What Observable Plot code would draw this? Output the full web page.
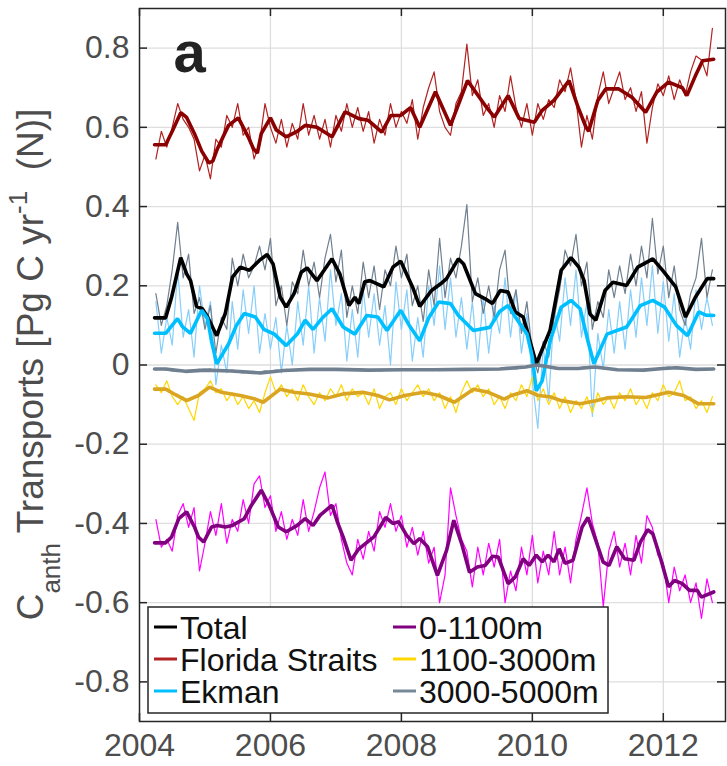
<!DOCTYPE html>
<html><head><meta charset="utf-8">
<script src="https://cdn.jsdelivr.net/npm/d3@7"></script>
<script src="https://cdn.jsdelivr.net/npm/@observablehq/plot@0.6"></script>
<style>body{margin:0;background:#fff;font-family:"Liberation Sans",Arial,Helvetica,sans-serif;}</style>
</head><body><div id="chart"></div>
<script>
// ---------- DATA ----------
const rawStart = 2004.25;   // first monthly sample (decimal year)
const rawStep = 1 / 12;     // monthly

const floridaRaw = [0.52,0.59,0.55,0.60,0.66,0.62,0.60,0.57,0.49,
 0.53,0.47,0.57,0.55,0.63,0.60,0.66,0.58,0.60,0.52,0.56,0.66,
 0.60,0.56,0.62,0.55,0.61,0.57,0.66,0.58,0.63,0.57,0.62,0.55,
 0.63,0.59,0.66,0.60,0.65,0.59,0.64,0.56,0.62,0.58,0.66,0.60,
 0.64,0.61,0.67,0.57,0.65,0.70,0.74,0.64,0.60,0.58,0.66,0.69,
 0.81,0.68,0.72,0.63,0.66,0.60,0.68,0.64,0.73,0.65,0.60,0.66,
 0.58,0.66,0.62,0.67,0.65,0.72,0.69,0.75,0.67,0.55,0.63,0.57,
 0.68,0.74,0.66,0.70,0.74,0.67,0.70,0.64,0.69,0.56,0.65,0.71,
 0.68,0.73,0.67,0.72,0.68,0.74,0.78,0.77,0.73,0.85];

const totalRaw = [0.18,0.10,0.15,0.24,0.36,0.22,0.28,0.13,0.17,
 0.09,0.15,0.03,0.12,0.09,0.27,0.20,0.28,0.22,0.25,0.30,0.24,
 0.32,0.15,0.20,0.10,0.21,0.18,0.29,0.20,0.26,0.17,0.27,0.33,
 0.21,0.29,0.12,0.20,0.13,0.26,0.17,0.25,0.14,0.24,0.20,0.30,
 0.22,0.28,0.15,0.20,0.11,0.24,0.15,0.32,0.17,0.27,0.22,0.30,
 0.405,0.16,0.22,0.13,0.20,0.12,0.24,0.29,0.13,0.19,0.08,0.16,
 0.03,-0.02,0.06,0.02,0.12,0.19,0.29,0.25,0.33,0.20,0.26,0.09,
 0.16,0.12,0.24,0.17,0.25,0.18,0.28,0.20,0.30,0.22,0.37,0.23,
 0.30,0.17,0.25,0.14,0.10,0.18,0.22,0.32,0.17,0.24];

const ekmanRaw = [0.16,0.03,0.12,0.05,0.24,0.07,0.14,0.02,0.20,
 0.10,0.16,-0.05,0.05,-0.02,0.16,0.04,0.19,0.08,0.20,0.03,0.13,
 0.04,0.12,-0.02,0.10,0.00,0.16,0.05,0.20,0.03,0.17,0.06,0.24,
 0.10,0.18,0.01,0.14,0.02,0.19,0.07,0.18,0.05,0.15,0.00,0.21,
 0.09,0.19,0.01,0.12,0.02,0.20,0.10,0.25,0.09,0.22,0.07,0.17,
 0.04,0.16,0.01,0.17,0.03,0.15,0.08,0.22,0.07,0.19,0.03,0.13,
 -0.04,-0.16,0.05,-0.09,0.14,0.06,0.22,0.10,0.24,0.07,0.16,-0.13,
 0.08,-0.01,0.14,0.03,0.16,0.04,0.19,0.07,0.22,0.10,0.25,0.08,
 0.21,0.06,0.18,0.02,0.12,0.04,0.19,0.09,0.17,0.10];

const upperRaw = [-0.39,-0.46,-0.44,-0.47,-0.38,-0.35,-0.41,-0.36,-0.52,
 -0.45,-0.37,-0.43,-0.35,-0.45,-0.39,-0.42,-0.34,-0.40,-0.30,-0.28,-0.36,
 -0.33,-0.42,-0.37,-0.44,-0.39,-0.43,-0.34,-0.42,-0.37,-0.31,-0.27,-0.38,
 -0.35,-0.44,-0.50,-0.53,-0.44,-0.49,-0.42,-0.47,-0.37,-0.41,-0.35,-0.42,
 -0.38,-0.46,-0.41,-0.48,-0.42,-0.50,-0.46,-0.60,-0.53,-0.31,-0.38,-0.44,
 -0.47,-0.56,-0.46,-0.53,-0.45,-0.51,-0.44,-0.60,-0.52,-0.57,-0.46,-0.53,
 -0.43,-0.55,-0.47,-0.53,-0.42,-0.53,-0.46,-0.55,-0.44,-0.38,-0.31,-0.40,
 -0.45,-0.61,-0.47,-0.42,-0.51,-0.45,-0.53,-0.43,-0.50,-0.38,-0.41,-0.48,
 -0.50,-0.60,-0.51,-0.57,-0.53,-0.60,-0.55,-0.64,-0.54,-0.60];

const midRaw = [-0.05,-0.07,-0.04,-0.08,-0.10,-0.08,-0.11,-0.14,-0.07,
 -0.06,-0.04,-0.07,-0.06,-0.09,-0.07,-0.10,-0.08,-0.11,-0.09,-0.12,-0.07,
 -0.03,-0.07,-0.05,-0.08,-0.06,-0.09,-0.05,-0.08,-0.10,-0.07,-0.09,-0.06,
 -0.08,-0.05,-0.09,-0.06,-0.08,-0.07,-0.10,-0.06,-0.11,-0.08,-0.07,-0.10,
 -0.06,-0.09,-0.07,-0.05,-0.08,-0.06,-0.09,-0.07,-0.11,-0.08,-0.12,-0.07,
 -0.04,-0.07,-0.05,-0.08,-0.06,-0.10,-0.08,-0.11,-0.07,-0.09,-0.05,-0.08,
 -0.03,-0.09,-0.06,-0.10,-0.07,-0.11,-0.08,-0.12,-0.09,-0.11,-0.08,-0.12,
 -0.07,-0.10,-0.08,-0.11,-0.07,-0.09,-0.06,-0.10,-0.08,-0.11,-0.07,-0.09,
 -0.05,-0.08,-0.07,-0.04,-0.09,-0.08,-0.11,-0.09,-0.12,-0.08];

const deepRaw = [-0.012,-0.010,-0.013,-0.015,-0.017,-0.014,-0.016,-0.012,-0.011,
 -0.013,-0.010,-0.014,-0.012,-0.016,-0.013,-0.018,-0.020,-0.017,-0.021,-0.018,-0.015,
 -0.016,-0.013,-0.015,-0.011,-0.014,-0.012,-0.010,-0.013,-0.011,-0.009,-0.012,-0.010,
 -0.011,-0.013,-0.010,-0.012,-0.009,-0.011,-0.013,-0.012,-0.015,-0.013,-0.011,-0.012,
 -0.010,-0.012,-0.011,-0.013,-0.010,-0.012,-0.011,-0.014,-0.012,-0.010,-0.013,-0.011,
 -0.012,-0.009,-0.011,-0.010,-0.012,-0.009,-0.011,-0.010,-0.008,-0.010,-0.007,-0.004,
 -0.002,0.001,-0.003,-0.006,-0.009,-0.011,-0.010,-0.008,-0.010,-0.006,-0.004,-0.007,
 -0.005,-0.008,-0.011,-0.009,-0.012,-0.013,-0.011,-0.014,-0.012,-0.010,-0.012,-0.009,
 -0.007,-0.005,-0.008,-0.010,-0.008,-0.011,-0.009,-0.012,-0.010,-0.011];

// smoothed series: [decimal year, value]
const floridaSmooth = [[2004.23,0.556],[2004.40,0.556],[2004.50,0.59],[2004.63,0.637],[2004.72,0.625],[2004.84,0.584],[2004.95,0.54],[2005.06,0.51],[2005.12,0.515],[2005.19,0.546],[2005.36,0.605],[2005.51,0.624],[2005.66,0.576],[2005.74,0.546],[2005.80,0.535],[2005.86,0.584],[2006.0,0.624],[2006.09,0.593],[2006.24,0.576],[2006.41,0.59],[2006.53,0.605],[2006.71,0.60],[2006.94,0.576],[2007.14,0.639],[2007.35,0.622],[2007.49,0.618],[2007.70,0.588],[2007.84,0.63],[2007.99,0.63],[2008.14,0.65],[2008.28,0.60],[2008.52,0.69],[2008.75,0.605],[2009.01,0.718],[2009.28,0.655],[2009.42,0.626],[2009.63,0.68],[2009.80,0.622],[2010.03,0.613],[2010.15,0.643],[2010.33,0.668],[2010.56,0.718],[2010.70,0.65],[2010.82,0.60],[2010.86,0.59],[2011.0,0.668],[2011.12,0.697],[2011.32,0.697],[2011.52,0.676],[2011.73,0.638],[2011.90,0.689],[2012.08,0.714],[2012.29,0.70],[2012.36,0.68],[2012.49,0.73],[2012.60,0.768],[2012.77,0.772]];

const totalSmooth = [[2004.23,0.119],[2004.40,0.119],[2004.49,0.171],[2004.63,0.271],[2004.72,0.23],[2004.78,0.213],[2004.87,0.148],[2004.96,0.142],[2005.04,0.121],[2005.18,0.074],[2005.31,0.13],[2005.42,0.222],[2005.54,0.247],[2005.68,0.239],[2005.83,0.264],[2005.95,0.279],[2006.04,0.255],[2006.15,0.171],[2006.24,0.146],[2006.36,0.18],[2006.47,0.234],[2006.56,0.245],[2006.71,0.213],[2006.82,0.239],[2006.94,0.268],[2007.06,0.23],[2007.20,0.15],[2007.29,0.171],[2007.35,0.155],[2007.44,0.21],[2007.52,0.213],[2007.73,0.197],[2007.87,0.247],[2007.99,0.262],[2008.17,0.197],[2008.28,0.148],[2008.46,0.188],[2008.60,0.205],[2008.69,0.218],[2008.87,0.268],[2008.95,0.255],[2009.13,0.18],[2009.28,0.167],[2009.39,0.155],[2009.51,0.188],[2009.63,0.184],[2009.74,0.134],[2009.86,0.121],[2009.92,0.087],[2010.06,0.003],[2010.27,0.087],[2010.44,0.239],[2010.59,0.271],[2010.71,0.247],[2010.79,0.213],[2010.88,0.129],[2010.97,0.113],[2011.11,0.188],[2011.23,0.209],[2011.44,0.201],[2011.61,0.247],[2011.84,0.268],[2011.99,0.239],[2012.19,0.197],[2012.34,0.121],[2012.49,0.171],[2012.67,0.218],[2012.77,0.218]];

const ekmanSmooth = [[2004.23,0.08],[2004.40,0.08],[2004.58,0.117],[2004.66,0.096],[2004.78,0.08],[2004.95,0.138],[2005.04,0.117],[2005.10,0.06],[2005.18,0.003],[2005.36,0.053],[2005.48,0.10],[2005.60,0.13],[2005.77,0.121],[2005.90,0.09],[2006.06,0.078],[2006.24,0.049],[2006.41,0.078],[2006.53,0.113],[2006.65,0.09],[2006.80,0.12],[2006.94,0.142],[2007.11,0.096],[2007.29,0.078],[2007.47,0.125],[2007.64,0.121],[2007.78,0.087],[2007.99,0.138],[2008.12,0.10],[2008.28,0.061],[2008.42,0.12],[2008.57,0.159],[2008.75,0.155],[2008.87,0.125],[2009.10,0.087],[2009.35,0.095],[2009.50,0.135],[2009.63,0.15],[2009.74,0.121],[2009.92,0.078],[2010.00,0.02],[2010.06,-0.065],[2010.15,-0.04],[2010.27,0.06],[2010.44,0.146],[2010.59,0.163],[2010.73,0.142],[2010.85,0.06],[2010.94,0.003],[2011.14,0.078],[2011.44,0.096],[2011.65,0.15],[2011.84,0.163],[2012.02,0.146],[2012.20,0.10],[2012.37,0.074],[2012.54,0.134],[2012.65,0.126],[2012.77,0.125]];

const upperSmooth = [[2004.23,-0.449],[2004.40,-0.449],[2004.49,-0.434],[2004.60,-0.388],[2004.72,-0.371],[2004.84,-0.409],[2004.90,-0.434],[2004.98,-0.447],[2005.10,-0.409],[2005.19,-0.405],[2005.31,-0.409],[2005.42,-0.405],[2005.60,-0.388],[2005.71,-0.354],[2005.86,-0.316],[2005.98,-0.354],[2006.12,-0.409],[2006.24,-0.421],[2006.41,-0.405],[2006.53,-0.388],[2006.65,-0.405],[2006.76,-0.379],[2006.94,-0.354],[2007.03,-0.40],[2007.11,-0.434],[2007.23,-0.493],[2007.35,-0.464],[2007.58,-0.434],[2007.76,-0.385],[2007.87,-0.40],[2007.96,-0.396],[2008.08,-0.43],[2008.19,-0.451],[2008.28,-0.438],[2008.40,-0.459],[2008.55,-0.531],[2008.69,-0.468],[2008.80,-0.392],[2008.92,-0.451],[2009.04,-0.523],[2009.16,-0.51],[2009.28,-0.506],[2009.39,-0.483],[2009.48,-0.485],[2009.63,-0.552],[2009.74,-0.535],[2009.86,-0.489],[2009.95,-0.506],[2010.06,-0.48],[2010.15,-0.497],[2010.24,-0.48],[2010.33,-0.497],[2010.41,-0.464],[2010.50,-0.501],[2010.62,-0.493],[2010.76,-0.409],[2010.85,-0.385],[2010.97,-0.443],[2011.08,-0.497],[2011.17,-0.506],[2011.29,-0.459],[2011.41,-0.489],[2011.55,-0.493],[2011.65,-0.447],[2011.76,-0.416],[2011.84,-0.426],[2011.96,-0.489],[2012.08,-0.56],[2012.17,-0.544],[2012.29,-0.552],[2012.40,-0.569],[2012.52,-0.569],[2012.58,-0.586],[2012.77,-0.573]];

const midSmooth = [[2004.23,-0.061],[2004.40,-0.061],[2004.55,-0.075],[2004.72,-0.09],[2004.90,-0.077],[2005.07,-0.056],[2005.25,-0.069],[2005.54,-0.077],[2005.77,-0.086],[2005.89,-0.094],[2006.15,-0.061],[2006.36,-0.069],[2006.59,-0.073],[2006.88,-0.083],[2007.11,-0.073],[2007.41,-0.069],[2007.64,-0.077],[2007.82,-0.088],[2008.05,-0.077],[2008.34,-0.069],[2008.57,-0.077],[2008.81,-0.094],[2009.10,-0.061],[2009.33,-0.069],[2009.57,-0.086],[2009.68,-0.077],[2009.92,-0.065],[2010.09,-0.077],[2010.27,-0.08],[2010.44,-0.09],[2010.73,-0.098],[2010.97,-0.09],[2011.14,-0.083],[2011.44,-0.08],[2011.73,-0.082],[2012.08,-0.069],[2012.31,-0.077],[2012.54,-0.098],[2012.77,-0.098]];

const deepSmooth = [[2004.23,-0.010],[2004.40,-0.010],[2004.70,-0.016],[2005.00,-0.013],[2005.40,-0.015],[2005.85,-0.020],[2006.20,-0.014],[2006.60,-0.011],[2007.00,-0.011],[2007.50,-0.013],[2008.00,-0.012],[2008.50,-0.012],[2009.00,-0.011],[2009.50,-0.010],[2009.90,-0.005],[2010.07,0.000],[2010.40,-0.009],[2010.70,-0.009],[2010.95,-0.005],[2011.30,-0.012],[2011.70,-0.013],[2012.00,-0.009],[2012.20,-0.007],[2012.50,-0.011],[2012.77,-0.010]];

const legendLabels = ["Total","Florida Straits","Ekman","0-1100m","1100-3000m","3000-5000m"];
const xTicks = [2004, 2006, 2008, 2010, 2012];
const yTicks = [-0.8, -0.6, -0.4, -0.2, 0, 0.2, 0.4, 0.6, 0.8];
const panelLetter = "a";

// ---------- STYLE ----------
const rawColors = {florida:"#B22222", total:"#708090", ekman:"#87CEFA", upper:"#FF00FF", mid:"#FFD700", deep:"#708090"};
const smoothColors = {florida:"#8B0000", total:"#000000", ekman:"#00BFFF", upper:"#800080", mid:"#DAA520", deep:"#708090"};
const legendColors = ["#000000","#B22222","#00BFFF","#800080","#FFD700","#778899"];

const W = 727, H = 766;
const mL = 139, mR = 2, mT = 8, mB = 45;
const pw = W - mL - mR, ph = H - mT - mB;
const tickLen = 8;
const font = '"Liberation Sans", Arial, Helvetica, sans-serif';

const toRows = arr => arr.map((v, i) => ({t: rawStart + i * rawStep, v}));
const toPairs = arr => arr.map(([t, v]) => ({t, v}));

const rawSets = [["ekman", ekmanRaw], ["total", totalRaw], ["florida", floridaRaw], ["upper", upperRaw], ["mid", midRaw], ["deep", deepRaw]];
const smoothSets = [["florida", floridaSmooth], ["total", totalSmooth], ["ekman", ekmanSmooth], ["upper", upperSmooth], ["mid", midSmooth], ["deep", deepSmooth]];

const svg = Plot.plot({
  width: W, height: H,
  marginLeft: mL, marginRight: mR, marginTop: mT, marginBottom: mB,
  style: {fontFamily: font, fontSize: "32px", color: "#4d4d4d", background: "#fff", overflow: "visible"},
  x: {domain: [2004, 2012.95], axis: null},
  y: {domain: [-0.9, 0.9], axis: null},
  marks: [
    Plot.gridY(yTicks, {stroke: "#dedede", strokeOpacity: 1, strokeWidth: 1.3}),
    Plot.gridX(xTicks.filter(d => d > 2004), {stroke: "#dedede", strokeOpacity: 1, strokeWidth: 1.3}),
    ...rawSets.map(([k, arr]) => Plot.line(toRows(arr), {x: "t", y: "v", stroke: rawColors[k], strokeWidth: 1.2})),
    ...smoothSets.map(([k, arr]) => Plot.line(toPairs(arr), {x: "t", y: "v", stroke: smoothColors[k], strokeWidth: 3.6, strokeLinejoin: "miter"})),
    Plot.tickY(yTicks, {y: d => d, insetRight: pw - tickLen, stroke: "#262626", strokeWidth: 1.5}),
    Plot.tickY(yTicks, {y: d => d, insetLeft: pw - tickLen, stroke: "#262626", strokeWidth: 1.5}),
    Plot.tickX(xTicks, {x: d => d, insetTop: ph - tickLen, stroke: "#262626", strokeWidth: 1.5}),
    Plot.tickX(xTicks, {x: d => d, insetBottom: ph - tickLen, stroke: "#262626", strokeWidth: 1.5}),
    Plot.axisY(yTicks, {tickSize: 0, tickPadding: 10, tickFormat: d => d === 0 ? "0" : d.toFixed(1), fontSize: 32, fill: "#4d4d4d", label: null}),
    Plot.axisX(xTicks, {tickSize: 0, tickPadding: 12, tickFormat: d3.format("d"), fontSize: 32, fill: "#4d4d4d", label: null}),
    Plot.frame({stroke: "#262626", strokeWidth: 1.5}),
    Plot.text([panelLetter], {text: d => d, frameAnchor: "top-left", dx: 34, dy: 22, textAnchor: "start", lineAnchor: "top", fontSize: 58, fontWeight: "bold", fill: "#222"})
  ]
});

const s = d3.select(svg);

// y-axis label with subscript and superscript
const lab = s.append("text")
  .attr("transform", `translate(43,${mT + ph / 2}) rotate(-90)`)
  .attr("text-anchor", "middle")
  .attr("font-size", 37)
  .attr("fill", "#4d4d4d")
  .attr("font-family", font);
lab.append("tspan").text("C");
lab.append("tspan").attr("font-size", 26).attr("dy", 17).text("anth");
lab.append("tspan").attr("dy", -17).text(" Transports [Pg C yr");
lab.append("tspan").attr("font-size", 26).attr("dy", -16).text("-1");
lab.append("tspan").attr("dy", 16).text("  (N)]");

// legend
const lg = s.append("g").attr("text-anchor", "start");
lg.append("rect").attr("x", 148).attr("y", 607).attr("width", 460).attr("height", 106)
  .attr("fill", "#fff").attr("stroke", "#262626").attr("stroke-width", 1.5);
const colX = [154, 393];
const rowY = [639, 671, 703];
legendLabels.forEach((name, i) => {
  const c = Math.floor(i / 3), r = i % 3;
  lg.append("line").attr("x1", colX[c]).attr("x2", colX[c] + 23)
    .attr("y1", rowY[r] - 12).attr("y2", rowY[r] - 12)
    .attr("stroke", legendColors[i]).attr("stroke-width", 3);
  lg.append("text").attr("x", colX[c] + 26).attr("y", rowY[r])
    .attr("text-anchor", "start")
    .attr("font-size", 32).attr("fill", "#111").attr("font-family", font).text(name);
});

document.getElementById("chart").appendChild(svg);
</script>
</body></html>
